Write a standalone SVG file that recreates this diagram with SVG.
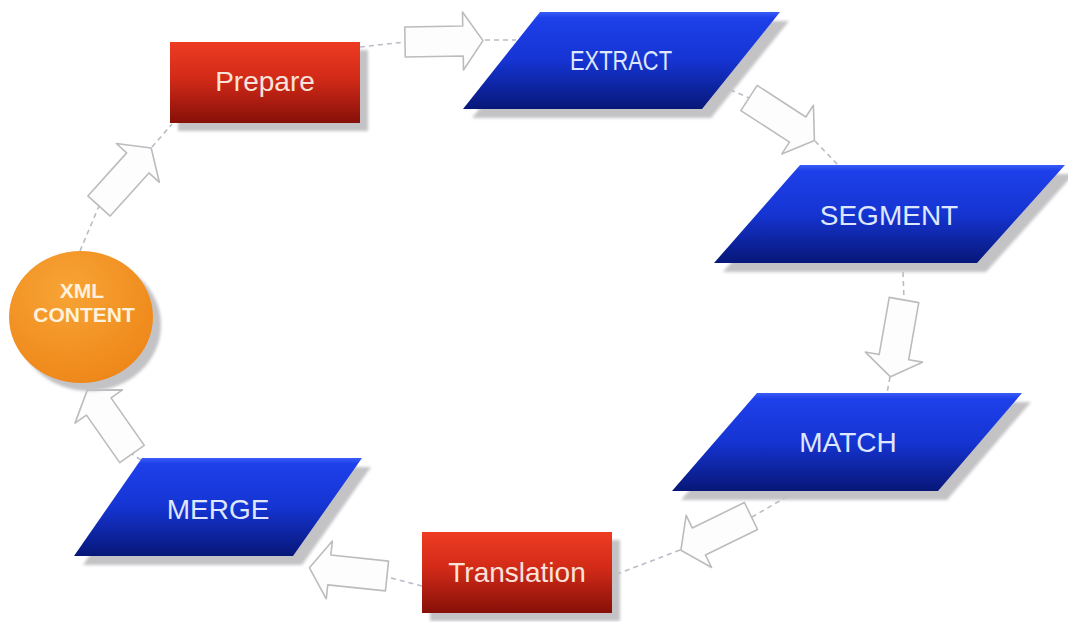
<svg xmlns="http://www.w3.org/2000/svg" width="1068" height="622" viewBox="0 0 1068 622">
  <defs>
    <linearGradient id="gBlue" x1="0" y1="0" x2="0" y2="1">
      <stop offset="0" stop-color="#3a5cf6"/>
      <stop offset="0.06" stop-color="#1e40ea"/>
      <stop offset="0.5" stop-color="#1534d2"/>
      <stop offset="1" stop-color="#071778"/>
    </linearGradient>
    <linearGradient id="gRed" x1="0" y1="0" x2="0" y2="1">
      <stop offset="0" stop-color="#ee3c22"/>
      <stop offset="0.45" stop-color="#d22a18"/>
      <stop offset="1" stop-color="#861008"/>
    </linearGradient>
    <radialGradient id="gOrange" cx="0.4" cy="0.3" r="0.75">
      <stop offset="0" stop-color="#f8a436"/>
      <stop offset="1" stop-color="#ee8618"/>
    </radialGradient>
    <filter id="soft" x="-10%" y="-10%" width="120%" height="120%">
      <feGaussianBlur stdDeviation="1.6"/>
    </filter>
    <!-- hollow block arrow, base at origin, pointing along +x -->
    <path id="blockArrow" d="M0,-15 L58,-15 L58,-29 L78,0 L58,29 L58,15 L0,15 Z"/>
    <style>
      .shadow { fill: #c3c3c6; filter: url(#soft); }
      .para { fill: url(#gBlue); }
      .box { fill: url(#gRed); }
      .lblBlue { font-family: "Liberation Sans", Arial, sans-serif; font-size: 28px; fill: #dfe6ff; text-anchor: middle; }
      .lblRed { font-family: "Liberation Sans", Arial, sans-serif; font-size: 28px; fill: #f9e2da; text-anchor: middle; }
      .lblOrange { font-family: "Liberation Sans", Arial, sans-serif; font-size: 21px; font-weight: bold; fill: #fff1dc; text-anchor: middle; }
      .dash { fill: none; stroke: #b9bcc6; stroke-width: 1.6; stroke-dasharray: 5 4; }
      .arrow { fill: #fdfdfd; stroke: #bcbcbf; stroke-width: 1.6; stroke-linejoin: round; }
    </style>
  </defs>

  <rect width="1068" height="622" fill="#ffffff"/>

  <!-- connectors: dashed cycle path with hollow block arrows -->
  <g id="connectors">
    <path class="dash" d="M360,47 L405,42"/>
    <path class="dash" d="M485,40 L516,40"/>
    <path class="dash" d="M722,86 L749,98"/>
    <path class="dash" d="M815,141 L838,165"/>
    <path class="dash" d="M903,272 L904,300"/>
    <path class="dash" d="M890,377 L887,393"/>
    <path class="dash" d="M795,492 L752,517"/>
    <path class="dash" d="M680,550 L612,576"/>
    <path class="dash" d="M422,586 L387,577"/>
    <path class="dash" d="M141,460 L132,454"/>
    <path class="dash" d="M87,390 L82,383"/>
    <path class="dash" d="M80,251 L99,206"/>
    <path class="dash" d="M152,147 L172,124"/>

    <use href="#blockArrow" class="arrow" transform="translate(405,42) rotate(-1)"/>
    <use href="#blockArrow" class="arrow" transform="translate(749,98) rotate(33)"/>
    <use href="#blockArrow" class="arrow" transform="translate(904,300) rotate(100)"/>
    <use href="#blockArrow" class="arrow" transform="translate(751,516) rotate(154)"/>
    <use href="#blockArrow" class="arrow" transform="translate(387,576) rotate(186)"/>
    <use href="#blockArrow" class="arrow" transform="translate(132,454) rotate(235)"/>
    <use href="#blockArrow" class="arrow" transform="translate(99,206) rotate(-48)"/>
  </g>

  <g id="node-xml-content">
    <ellipse class="shadow" cx="89" cy="325" rx="72" ry="66"/>
    <ellipse cx="81" cy="317" rx="72" ry="66" fill="url(#gOrange)"/>
    <text class="lblOrange" x="82" y="298">XML</text>
    <text class="lblOrange" x="84" y="322">CONTENT</text>
  </g>

  <g id="node-prepare">
    <rect class="shadow" x="178" y="50" width="190" height="81"/>
    <rect class="box" x="170" y="42" width="190" height="81"/>
    <text class="lblRed" x="265" y="91">Prepare</text>
  </g>

  <g id="node-extract">
    <polygon class="shadow" points="549,21 789,21 711,118 472,118"/>
    <polygon class="para" points="540,12 780,12 702,109 463,109"/>
    <text class="lblBlue" x="621" y="70" font-size="25" textLength="102" lengthAdjust="spacingAndGlyphs">EXTRACT</text>
  </g>

  <g id="node-segment">
    <polygon class="shadow" points="809,174 1074,174 986,272 723,272"/>
    <polygon class="para" points="800,165 1065,165 977,263 714,263"/>
    <text class="lblBlue" x="889" y="225">SEGMENT</text>
  </g>

  <g id="node-match">
    <polygon class="shadow" points="766,402 1031,402 947,500 681,500"/>
    <polygon class="para" points="757,393 1022,393 938,491 672,491"/>
    <text class="lblBlue" x="848" y="452">MATCH</text>
  </g>

  <g id="node-translation">
    <rect class="shadow" x="430" y="540" width="190" height="81"/>
    <rect class="box" x="422" y="532" width="190" height="81"/>
    <text class="lblRed" x="517" y="582">Translation</text>
  </g>

  <g id="node-merge">
    <polygon class="shadow" points="151,467 371,467 302,565 83,565"/>
    <polygon class="para" points="142,458 362,458 293,556 74,556"/>
    <text class="lblBlue" x="218" y="519">MERGE</text>
  </g>
</svg>
